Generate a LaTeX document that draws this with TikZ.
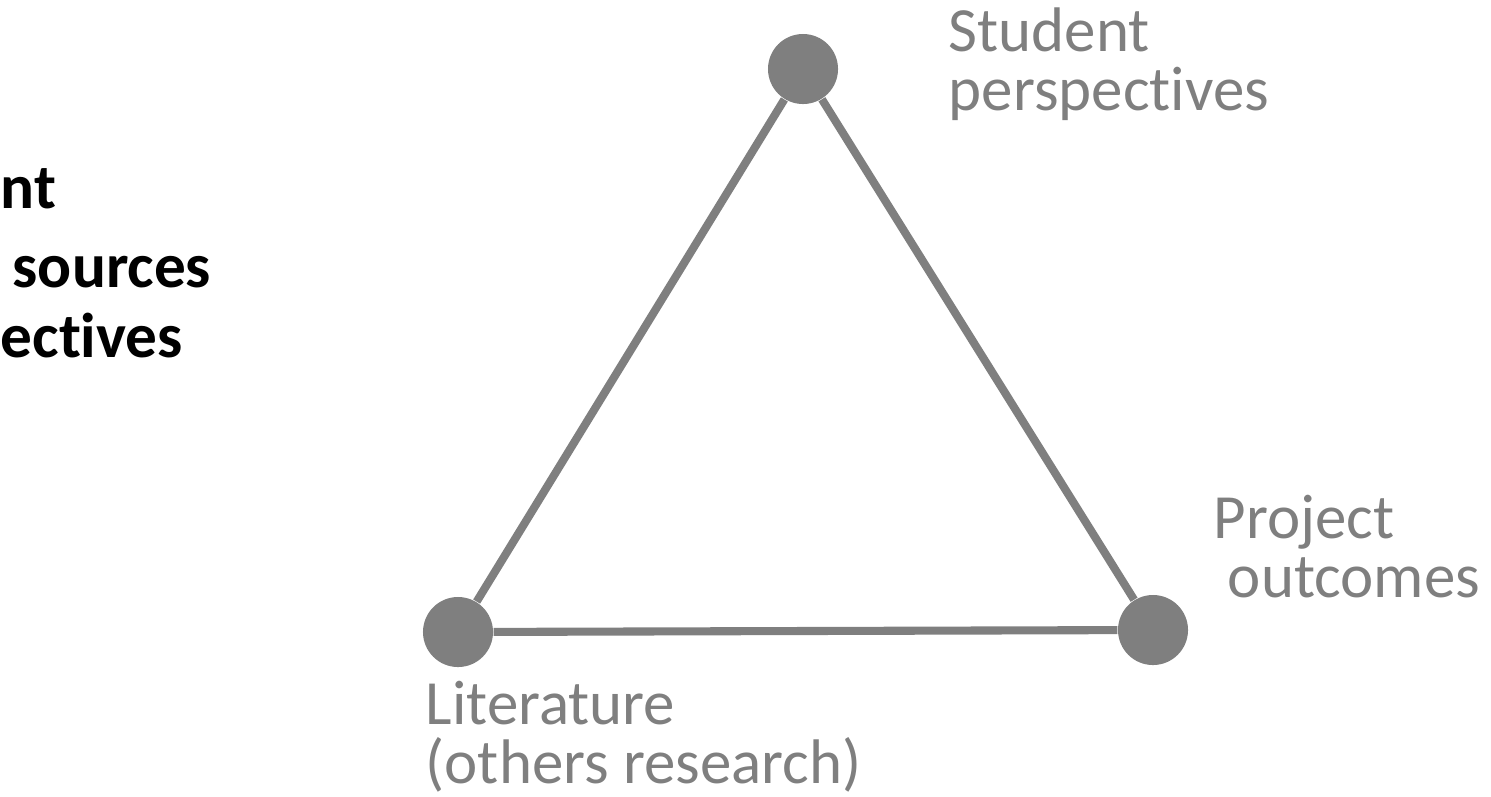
\documentclass[tikz,border=0pt]{standalone}
\usepackage{fontspec}
\setmainfont{Carlito}[RawFeature={-liga;-clig;-calt}]
\usetikzlibrary{positioning}
\definecolor{midgray}{HTML}{7F7F7F}

\begin{document}
\begin{tikzpicture}[x=0.01cm,y=-0.01cm]
\tikzset{
  vertex/.style={circle,fill=midgray,minimum size=0.7cm,inner sep=0pt},
  edge/.style={draw=midgray,line width=2.3pt},
  cornerlabel/.style={text=midgray,font=\fontsize{17.9}{16.5}\selectfont,align=left,inner sep=0pt,anchor=base west},
  sidetext/.style={font=\fontsize{18}{21}\selectfont\bfseries,inner sep=0pt,anchor=base west}
}
\useasboundingbox (0,0) rectangle (1491,796);
\node[sidetext] (t_a) at (0,208) {nt};
\node[sidetext] (t_b) at (12,287) {sources};
\node[sidetext] (t_c) at (0,357) {ectives};
\node[vertex] (n_S) at (803,69) {};
\node[vertex] (n_L) at (458,632) {};
\node[vertex] (n_P) at (1153,630) {};
\draw[edge] (n_S) -- (n_L);
\draw[edge] (n_S) -- (n_P);
\draw[edge] (n_L) -- (n_P);
\node[cornerlabel] (l_S) at (948,110) {Student\\perspectives};
\node[cornerlabel] (l_P) at (1213,597) {Project\\\ outcomes};
\node[cornerlabel] (l_L) at (425,783) {Literature\\(others research)};
\end{tikzpicture}
\end{document}
